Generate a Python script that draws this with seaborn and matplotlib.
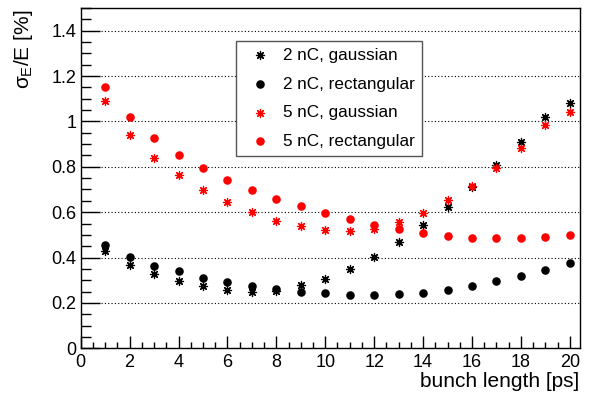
import matplotlib
matplotlib.use("Agg")
import matplotlib.pyplot as plt
from matplotlib.ticker import MultipleLocator, FuncFormatter
import seaborn as sns
import pandas as pd

bunch_length = list(range(1, 21))
g2 = [0.427, 0.369, 0.329, 0.298, 0.273, 0.255, 0.248, 0.254, 0.277, 0.305,
      0.349, 0.404, 0.469, 0.544, 0.622, 0.711, 0.808, 0.911, 1.019, 1.080]
r2 = [0.454, 0.401, 0.364, 0.339, 0.312, 0.292, 0.276, 0.262, 0.249, 0.242,
      0.237, 0.236, 0.239, 0.246, 0.258, 0.274, 0.295, 0.318, 0.346, 0.377]
g5 = [1.091, 0.942, 0.840, 0.762, 0.699, 0.644, 0.600, 0.563, 0.537, 0.520,
      0.516, 0.526, 0.557, 0.597, 0.652, 0.715, 0.793, 0.884, 0.983, 1.042]
r5 = [1.153, 1.020, 0.927, 0.853, 0.795, 0.744, 0.699, 0.660, 0.626, 0.597,
      0.569, 0.545, 0.526, 0.510, 0.497, 0.488, 0.485, 0.485, 0.489, 0.500]
labels = ["2 nC, gaussian", "2 nC, rectangular", "5 nC, gaussian", "5 nC, rectangular"]

sns.set_style("white")
plt.rcParams["font.family"] = ["Liberation Sans", "DejaVu Sans"]
plt.rcParams["mathtext.fontset"] = "custom"
plt.rcParams["mathtext.rm"] = "Liberation Sans"
plt.rcParams["mathtext.it"] = "Liberation Sans"
plt.rcParams["text.color"] = "black"
plt.rcParams["axes.labelcolor"] = "black"
plt.rcParams["xtick.color"] = "black"
plt.rcParams["ytick.color"] = "black"
plt.rcParams["xtick.labelcolor"] = "black"
plt.rcParams["ytick.labelcolor"] = "black"

fig = plt.figure(figsize=(5.89, 3.99), dpi=100)
ax = fig.add_axes([0.137, 0.127, 0.847, 0.853])

STAR = (8, 2, 0)
series = [(g2, "black", STAR), (r2, "black", "o"), (g5, "red", STAR), (r5, "red", "o")]
for (vals, col, mk), lab in zip(series, labels):
    df = pd.DataFrame({"x": bunch_length, "y": vals})
    if mk == "o":
        sns.scatterplot(data=df, x="x", y="y", ax=ax, color=col, marker="o",
                        s=38, linewidth=0, edgecolor=col, label=lab, zorder=3)
    else:
        sns.scatterplot(data=df, x="x", y="y", ax=ax, color=col, marker=mk,
                        s=34, linewidth=0.9, edgecolor=col, label=lab, zorder=3)

ax.set_xlim(0, 20.4)
ax.set_ylim(0, 1.5)
ax.xaxis.set_major_locator(MultipleLocator(2))
ax.xaxis.set_minor_locator(MultipleLocator(0.5))
ax.yaxis.set_major_locator(MultipleLocator(0.2))
ax.yaxis.set_minor_locator(MultipleLocator(0.05))
fmt = FuncFormatter(lambda v, p: ("%g" % round(v, 3)))
ax.xaxis.set_major_formatter(fmt)
ax.yaxis.set_major_formatter(fmt)

ax.tick_params(bottom=True, left=True, top=False, right=False, which="both")
ax.tick_params(axis="x", which="major", direction="in", length=9, width=1, pad=4,
               labelsize=13, color="black", labelcolor="black")
ax.tick_params(axis="x", which="minor", direction="in", length=4.5, width=1, color="black")
ax.tick_params(axis="y", which="major", direction="in", length=14, width=1, pad=3,
               labelsize=13, color="black", labelcolor="black")
ax.tick_params(axis="y", which="minor", direction="in", length=7, width=1, color="black")

for sp in ax.spines.values():
    sp.set_color("black")
    sp.set_linewidth(1.0)
    sp.set_visible(True)

ax.yaxis.grid(True, which="major", linestyle=(0, (1, 2)), color="black", linewidth=0.8)
ax.xaxis.grid(False)
ax.set_axisbelow(True)

ax.set_xlabel("bunch length [ps]", fontsize=15, loc="right", color="black")
ax.xaxis.set_label_coords(1.0, -0.07)
ax.set_ylabel(r"$\sigma_{E}$/E [%]", fontsize=15, loc="top", color="black")
ax.yaxis.set_label_coords(-0.092, 0.995)

leg = ax.legend(loc="upper left", bbox_to_anchor=(236 / 589, 1 - 41 / 399),
                bbox_transform=fig.transFigure, borderaxespad=0, fontsize=12.3,
                frameon=True, fancybox=False, shadow=False, framealpha=1,
                borderpad=0.4, handlelength=2.0, handletextpad=0.35,
                labelspacing=0.8)
leg.get_frame().set_edgecolor("#555555")
leg.get_frame().set_linewidth(1.0)
for t in leg.get_texts():
    t.set_color("black")

fig.savefig("out.png", dpi=100)
